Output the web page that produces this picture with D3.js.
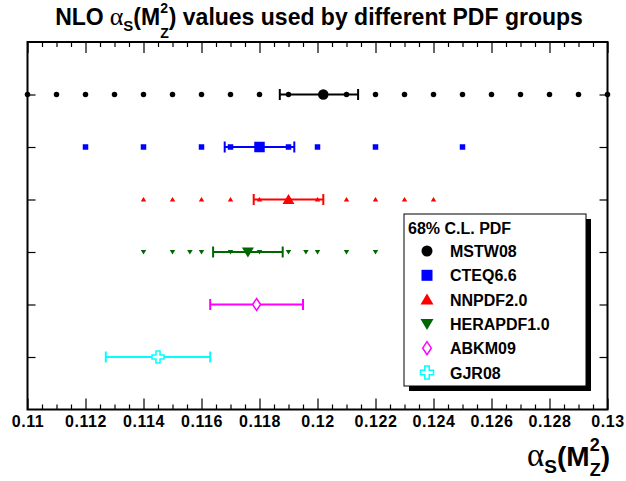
<!DOCTYPE html>
<html>
<head>
<meta charset="utf-8">
<script src="https://cdn.jsdelivr.net/npm/d3@7"></script>
<style>
  html, body { margin: 0; padding: 0; background: #fff; }
  svg { display: block; }
  text { font-family: "Liberation Sans", Arial, Helvetica, sans-serif; }
</style>
</head>
<body>
<svg id="chart" width="626" height="481"></svg>
<script>
// ---------------- data ----------------
const categories = ["MSTW08", "CTEQ6.6", "NNPDF2.0", "HERAPDF1.0", "ABKM09", "GJR08"];
const centralValues = [0.1202, 0.1180, 0.1190, 0.1176, 0.1179, 0.1145];
const errLow  = [0.0015, 0.0012, 0.0012, 0.0012, 0.0016, 0.0018];
const errHigh = [0.0012, 0.0012, 0.0012, 0.0012, 0.0016, 0.0018];

const mstwScan  = [0.110, 0.111, 0.112, 0.113, 0.114, 0.115, 0.116, 0.117, 0.118, 0.119,
                   0.121, 0.122, 0.123, 0.124, 0.125, 0.126, 0.127, 0.128, 0.129, 0.130];
const cteqScan  = [0.112, 0.114, 0.116, 0.117, 0.119, 0.120, 0.122, 0.125];
const nnpdfScan = [0.114, 0.115, 0.116, 0.117, 0.118, 0.120, 0.121, 0.122, 0.123, 0.124];
const heraScan  = [0.114, 0.115, 0.1156, 0.116, 0.117, 0.118, 0.119, 0.1196, 0.120, 0.121, 0.122];
const abkmScan  = [];
const gjrScan   = [];
const scans = [mstwScan, cteqScan, nnpdfScan, heraScan, abkmScan, gjrScan];

const xMajorTicks = [0.110, 0.112, 0.114, 0.116, 0.118, 0.120, 0.122, 0.124, 0.126, 0.128, 0.130];
const xTickLabels = ["0.11", "0.112", "0.114", "0.116", "0.118", "0.12", "0.122", "0.124", "0.126", "0.128", "0.13"];
const legendTitle = "68% C.L. PDF";

// ---------------- styles ----------------
const colors = ["#000000", "#0000ff", "#ff0000", "#006600", "#ff00ff", "#00ffff"];
const markerKinds = ["circle", "square", "triUp", "triDown", "diamond", "cross"];

// ---------------- layout ----------------
const svg = d3.select("#chart");
const X0 = 27.5, X1 = 607.5, Y0 = 409.5, Y1 = 42;
const x = d3.scaleLinear().domain([0.110, 0.130]).range([X0, X1]);
const y = d3.scaleLinear().domain([0, 7]).range([Y0, Y1]);
const rowOf = i => categories.length - i; // MSTW at 6 ... GJR at 1

// marker path generator
function markerPath(kind, s) {
  const h = s / 2;
  switch (kind) {
    case "circle":
      return `M${-h},0A${h},${h} 0 1,0 ${h},0A${h},${h} 0 1,0 ${-h},0Z`;
    case "square":
      return `M${-h},${-h}H${h}V${h}H${-h}Z`;
    case "triUp": {
      const th = s * 0.85;
      return `M0,${-th * 0.55}L${h},${th * 0.45}L${-h},${th * 0.45}Z`;
    }
    case "triDown": {
      const th = s * 0.85;
      return `M0,${th * 0.55}L${h},${-th * 0.45}L${-h},${-th * 0.45}Z`;
    }
    case "diamond": {
      const w = s * 0.33, hh = s * 0.5;
      return `M0,${-hh}L${w},0L0,${hh}L${-w},0Z`;
    }
    case "cross": {
      const a = s * 0.17;
      return `M${-a},${-h}H${a}V${-a}H${h}V${a}H${a}V${h}H${-a}V${a}H${-h}V${-a}H${-a}Z`;
    }
  }
}
const isOpen = k => k === "diamond" || k === "cross";

// ---------------- frame ticks ----------------
const minorTicks = d3.range(0, 41).map(i => 0.110 + i * 0.0005)
  .filter(v => !xMajorTicks.some(m => Math.abs(m - v) < 1e-9));

const axB = svg.append("g").attr("transform", `translate(0,${Y0})`)
  .call(d3.axisBottom(x).tickValues(xMajorTicks).tickSizeInner(-11).tickSizeOuter(0)
        .tickPadding(6).tickFormat((d, i) => xTickLabels[i]));
const axBm = svg.append("g").attr("transform", `translate(0,${Y0})`)
  .call(d3.axisBottom(x).tickValues(minorTicks).tickSizeInner(-5).tickSizeOuter(0).tickFormat(""));
const axT = svg.append("g").attr("transform", `translate(0,${Y1})`)
  .call(d3.axisTop(x).tickValues(xMajorTicks).tickSizeInner(-11).tickSizeOuter(0).tickFormat(""));
const axTm = svg.append("g").attr("transform", `translate(0,${Y1})`)
  .call(d3.axisTop(x).tickValues(minorTicks).tickSizeInner(-5).tickSizeOuter(0).tickFormat(""));
const rows = categories.map((c, i) => rowOf(i));
const axL = svg.append("g").attr("transform", `translate(${X0},0)`)
  .call(d3.axisLeft(y).tickValues(rows).tickSizeInner(-8).tickSizeOuter(0).tickFormat(""));
const axR = svg.append("g").attr("transform", `translate(${X1},0)`)
  .call(d3.axisRight(y).tickValues(rows).tickSizeInner(-8).tickSizeOuter(0).tickFormat(""));

[axB, axBm, axT, axTm, axL, axR].forEach(g => {
  g.select(".domain").remove();
  g.selectAll(".tick line").attr("stroke", "#000").attr("stroke-width", 1.2);
});
axB.selectAll(".tick text")
  .attr("fill", "#000")
  .style("font-family", "'Liberation Sans', Arial, sans-serif")
  .style("font-weight", "bold")
  .style("font-size", "16px")
  .style("letter-spacing", "0.6px");

// frame
svg.append("rect").attr("x", X0).attr("y", Y1).attr("width", X1 - X0).attr("height", Y0 - Y1)
  .attr("fill", "none").attr("stroke", "#000").attr("stroke-width", 2);

// ---------------- data marks ----------------
const bigSizes = {circle: 10.5, square: 10.5, triUp: 12, triDown: 12, diamond: 12, cross: 12};
const smallSizes = {circle: 5.5, square: 5.5, triUp: 5.5, triDown: 5.5};

categories.forEach((name, i) => {
  const g = svg.append("g");
  const yy = y(rowOf(i));
  const col = colors[i];
  const lo = centralValues[i] - errLow[i], hi = centralValues[i] + errHigh[i];
  g.append("line").attr("x1", x(lo)).attr("x2", x(hi)).attr("y1", yy).attr("y2", yy)
    .attr("stroke", col).attr("stroke-width", 2);
  [lo, hi].forEach(v => {
    g.append("line").attr("x1", x(v)).attr("x2", x(v)).attr("y1", yy - 5.5).attr("y2", yy + 5.5)
      .attr("stroke", col).attr("stroke-width", 2);
  });
  g.selectAll("path.scan").data(scans[i]).join("path")
    .attr("class", "scan")
    .attr("transform", d => `translate(${x(d)},${yy})`)
    .attr("d", markerPath(markerKinds[i], smallSizes[markerKinds[i]] || 5))
    .attr("fill", col);
  const k = markerKinds[i];
  g.append("path")
    .attr("transform", `translate(${x(centralValues[i])},${yy})`)
    .attr("d", markerPath(k, bigSizes[k]))
    .attr("fill", isOpen(k) ? "#fff" : col)
    .attr("stroke", isOpen(k) ? col : "none")
    .attr("stroke-width", 1.5);
});

// ---------------- legend ----------------
const LX = 404, LY = 214, LW = 182, LH = 172;
svg.append("rect").attr("x", LX + 5).attr("y", LY + 5).attr("width", LW).attr("height", LH).attr("fill", "#000");
svg.append("rect").attr("x", LX).attr("y", LY).attr("width", LW).attr("height", LH)
  .attr("fill", "#fff").attr("stroke", "#000").attr("stroke-width", 1);
svg.append("text").attr("x", LX + 4).attr("y", LY + 19.5).text(legendTitle)
  .style("font-weight", "bold").style("font-size", "16px").attr("fill", "#000");
const legRows = svg.append("g").selectAll("g").data(categories).join("g")
  .attr("transform", (d, i) => `translate(${LX + 23},${LY + 37 + i * 24.3})`);
const legSizes = {circle: 11, square: 11, triUp: 13, triDown: 13, diamond: 13, cross: 13};
legRows.append("path")
  .attr("d", (d, i) => markerPath(markerKinds[i], legSizes[markerKinds[i]]))
  .attr("fill", (d, i) => isOpen(markerKinds[i]) ? "#fff" : colors[i])
  .attr("stroke", (d, i) => isOpen(markerKinds[i]) ? colors[i] : "none")
  .attr("stroke-width", 1.5);
legRows.append("text").attr("x", 23).attr("y", 6).text(d => d)
  .style("font-weight", "bold").style("font-size", "16px").attr("fill", "#000");

// ---------------- rich text helper ----------------
function richText(parent, pieces, anchorX, baseY, align) {
  const g = parent.append("g");
  let cx = 0;
  pieces.forEach(p => {
    if (p.stack) {
      const t1 = g.append("text").attr("x", cx).attr("y", baseY + p.stack[0].dy).text(p.stack[0].t)
        .style("font-size", p.stack[0].size + "px").style("font-weight", "bold");
      const t2 = g.append("text").attr("x", cx).attr("y", baseY + p.stack[1].dy).text(p.stack[1].t)
        .style("font-size", p.stack[1].size + "px").style("font-weight", "bold");
      cx += Math.max(t1.node().getComputedTextLength(), t2.node().getComputedTextLength());
    } else {
      const t = g.append("text").attr("x", cx).attr("y", baseY + (p.dy || 0)).text(p.t)
        .attr("xml:space", "preserve")
        .style("white-space", "pre")
        .style("font-size", p.size + "px")
        .style("font-weight", p.normal ? "normal" : "bold");
      if (p.serif) t.style("font-family", "'Liberation Serif', 'Times New Roman', serif");
      cx += t.node().getComputedTextLength() + (p.gap || 0);
    }
  });
  const tx = align === "middle" ? anchorX - cx / 2 : (align === "end" ? anchorX - cx : anchorX);
  g.attr("transform", `translate(${tx},0)`).attr("fill", "#000");
  return g;
}

// title
richText(svg, [
  {t: "NLO", size: 23, gap: 6},
  {t: "α", size: 26, normal: true, serif: true},
  {t: "S", size: 15, dy: 6},
  {t: "(M", size: 23},
  {stack: [{t: "2", size: 14, dy: -12}, {t: "Z", size: 14, dy: 13}]},
  {t: ") values used by different PDF groups", size: 23}
], 319, 25, "middle");

// x axis title
richText(svg, [
  {t: "α", size: 33, normal: true, serif: true},
  {t: "S", size: 19, dy: 7},
  {t: "(M", size: 28},
  {stack: [{t: "2", size: 18, dy: -15}, {t: "Z", size: 18, dy: 10}]},
  {t: ")", size: 28}
], 610, 466, "end");
</script>
</body>
</html>
